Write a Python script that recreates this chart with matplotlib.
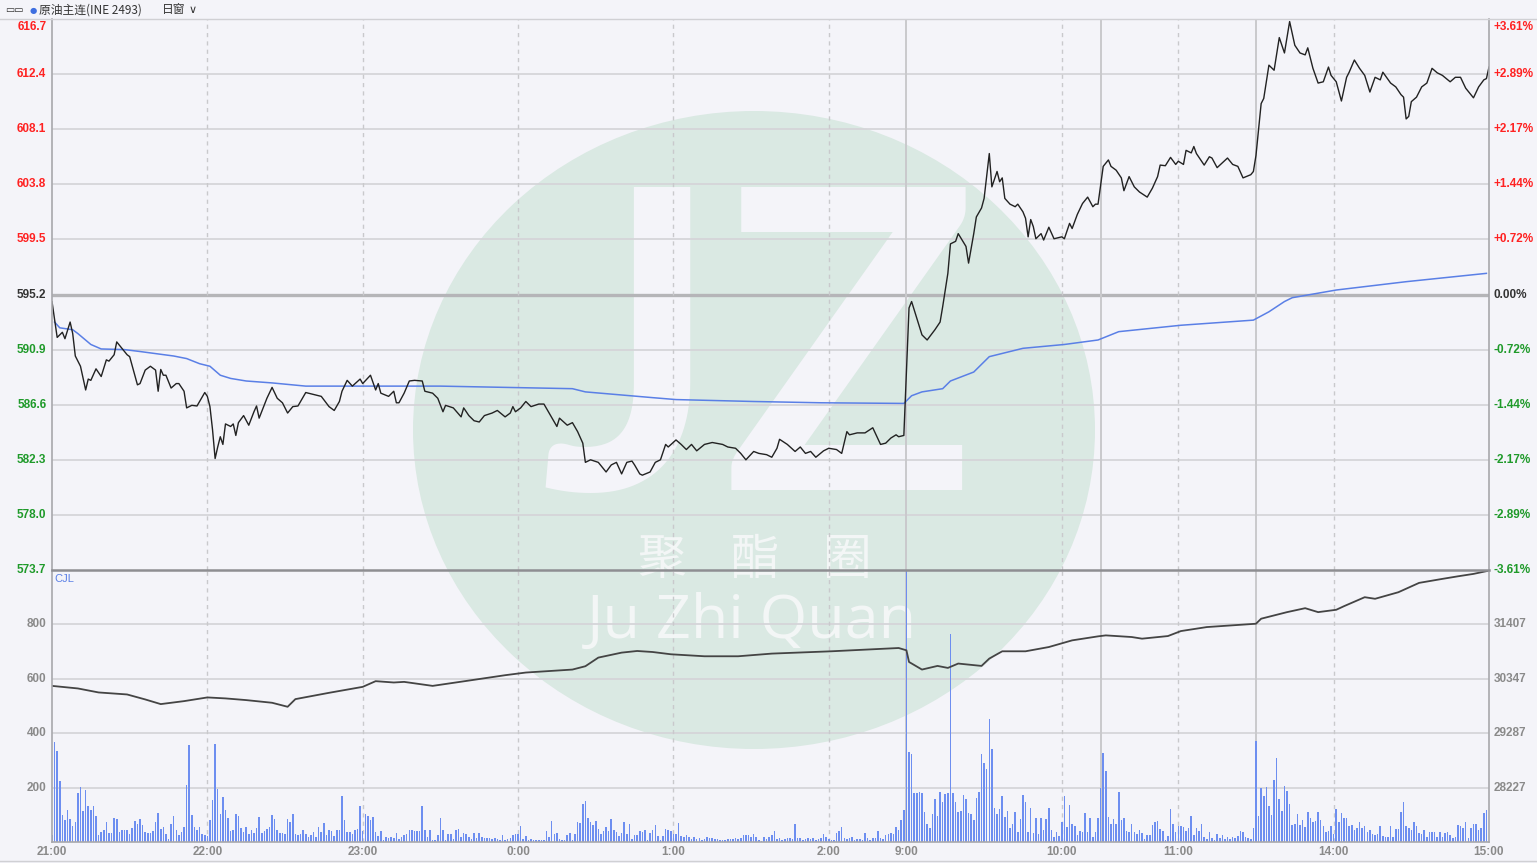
import numpy as np
import matplotlib.pyplot as plt
from matplotlib.patches import Ellipse

# x axis = trading minutes since 21:00
# night 21:00-2:30 (0-329), 9:00-10:15 (330-404), 10:30-11:30 (405-464), 13:30-15:00 (465-554)
tick_pos = [0, 60, 120, 180, 240, 300, 330, 390, 435, 495, 555]
tick_lab = ['21:00', '22:00', '23:00', '0:00', '1:00', '2:00', '9:00', '10:00', '11:00', '14:00', '15:00']
dash_pos = [60, 120, 180, 240, 300, 390, 435, 495]
session_pos = [330, 405, 465]

prev_close = 595.2
price_levels = [573.7, 578.0, 582.3, 586.6, 590.9, 595.2, 599.5, 603.8, 608.1, 612.4, 616.7]
pct_labels = ['-3.61%', '-2.89%', '-2.17%', '-1.44%', '-0.72%', '0.00%',
              '+0.72%', '+1.44%', '+2.17%', '+2.89%', '+3.61%']
vol_ticks = [200, 400, 600, 800]
oi_ticks = [28227, 29287, 30347, 31407]

# price line (minute, price)
price_t = [0, 2, 4, 5, 7, 8, 9, 11, 13, 14, 15, 17, 19, 21, 22, 24, 25, 27, 29, 30,
           33, 34, 36, 38, 40, 41, 42, 43, 44, 46, 48, 49, 51, 52, 54, 56, 57, 59, 60, 61,
           62, 63, 64, 65, 66, 67, 69, 70, 71, 72, 74, 76, 78, 79, 80, 83, 85, 87, 89, 91,
           93, 95, 98, 100, 102, 104, 107, 109, 111, 112, 114, 116, 119, 120, 123, 125, 126, 127, 130, 132,
           133, 134, 136, 138, 140, 143, 144, 147, 149, 151, 152, 155, 158, 159, 161, 163, 165, 167, 170, 172,
           175, 177, 178, 179, 181, 183, 185, 188, 190, 192, 195, 196, 199, 201, 203, 205, 206, 208, 211, 214,
           216, 218, 220, 222, 224, 225, 227, 228, 231, 233, 235, 237, 238, 241, 243, 245, 247, 249, 252, 255,
           259, 261, 264, 266, 268, 271, 273, 276, 278, 280, 281, 284, 287, 289, 291, 293, 295, 298, 300, 303,
           305, 307, 308, 311, 314, 317, 320, 322, 324, 326, 327, 329,
           331, 332, 334, 336, 338, 341, 343, 344, 346, 347, 349, 350, 353, 354, 356, 357, 359, 360, 362, 363,
           365, 366, 367, 368, 370, 372, 373, 375, 376, 377, 378, 379, 380, 382, 383, 385, 387, 390, 391, 393,
           394, 396, 398, 400, 402, 403, 404,
           406, 408, 409, 411, 413, 414, 416, 418, 420, 423, 425, 427, 428, 430, 432, 434, 435, 437, 438, 440,
           441, 442, 445, 447, 448, 450, 454, 456, 458, 460, 463, 464,
           465, 467, 468, 470, 472, 474, 476, 478, 480, 482, 484, 485, 487, 489, 491, 493, 494, 496, 498, 500,
           501, 503, 505, 507, 509, 511, 513, 514, 517, 519, 521, 522, 523, 524, 525, 527, 529, 531, 533, 535,
           537, 540, 542, 544, 546, 549, 551, 553, 554, 555]
price = [594.65, 591.85, 592.25, 591.75, 593.05, 592.15, 590.4, 589.6, 587.75, 588.6, 588.5, 589.4, 588.8, 590.1, 590.0, 590.5, 591.5, 591.0, 590.5, 590.35,
         588.15, 588.25, 589.3, 589.6, 589.3, 587.65, 589.35, 588.9, 588.9, 587.9, 588.25, 588.25, 587.65, 586.35, 586.55, 586.5, 586.85, 587.55, 587.25, 586.45,
         584.65, 582.4, 583.3, 584.1, 583.5, 585.1, 584.9, 585.1, 584.2, 585.2, 585.75, 585.0, 586.05, 586.5, 585.55, 587.1, 587.95, 587.1, 586.75, 585.95,
         586.45, 586.5, 587.55, 587.45, 587.35, 587.25, 586.45, 586.15, 586.85, 587.65, 588.5, 588.05, 588.6, 588.25, 588.9, 587.75, 588.25, 587.5, 587.25, 587.65,
         586.75, 586.75, 587.5, 588.45, 588.5, 588.45, 587.65, 587.5, 587.1, 586.05, 586.55, 586.35, 585.65, 586.35, 585.75, 585.35, 585.25, 585.75, 585.95, 586.15,
         585.65, 585.95, 586.45, 586.05, 586.35, 586.85, 586.45, 586.65, 586.65, 585.95, 584.9, 585.55, 585.0, 585.2, 584.5, 583.6, 582.1, 582.3, 582.1, 581.35,
         581.9, 582.1, 581.2, 582.1, 582.2, 581.9, 581.2, 581.1, 581.35, 582.1, 582.3, 583.5, 583.3, 583.85, 583.5, 583.1, 583.5, 583.0, 583.5, 583.65,
         583.5, 583.3, 583.2, 582.8, 582.3, 582.95, 582.8, 582.7, 582.5, 583.2, 583.9, 583.5, 582.95, 583.3, 582.8, 582.95, 582.5, 583.0, 583.2, 583.1,
         582.8, 584.5, 584.25, 584.4, 584.4, 584.8, 583.5, 583.6, 584.0, 584.25, 584.1, 584.2,
         594.15, 594.65, 593.35, 592.05, 591.65, 592.45, 593.05, 594.25, 596.85, 599.15, 599.35, 599.95, 598.95, 597.65, 599.95, 601.25, 601.95, 602.7, 606.2, 603.6,
         604.8, 604.0, 604.3, 602.7, 602.25, 602.05, 602.25, 601.65, 601.15, 599.7, 601.05, 600.5, 599.55, 599.95, 599.45, 600.45, 599.55, 599.7, 599.55, 600.75,
         600.35, 601.45, 602.3, 602.8, 602.05, 602.25, 602.25,
         605.2, 605.7, 605.2, 604.9, 604.3, 603.3, 604.4, 603.6, 603.2, 602.8, 603.5, 604.4, 605.3, 605.25, 605.9, 605.35, 605.6, 605.35, 606.45, 606.25,
         606.75, 606.2, 605.3, 605.95, 605.85, 605.1, 605.85, 605.35, 605.2, 604.3, 604.55, 604.8,
         606.05, 610.1, 610.5, 613.1, 612.7, 615.25, 614.05, 616.5, 614.65, 614.05, 613.9, 614.45, 612.85, 611.7, 611.8, 612.95, 612.3, 611.8, 610.3, 612.15,
         612.55, 613.5, 612.85, 612.3, 611.0, 612.15, 611.95, 612.55, 611.7, 611.4, 610.8, 610.6, 608.9, 609.1, 610.25, 610.6, 611.4, 611.7, 612.85, 612.5,
         612.3, 611.8, 612.15, 612.15, 611.3, 610.55, 611.4, 611.95, 612.05, 612.95]

# average price line
avg_t = [1, 3, 8, 10, 15, 19, 28, 34, 47, 52, 57, 61, 65, 69, 75, 85, 98, 150, 201, 206,
         232, 241, 271, 297, 329, 332, 336, 344, 347, 356, 362, 375, 391, 404, 412, 436, 464, 470, 476, 479,
         496, 523, 554]
avg_price = [593.05, 592.6, 592.45, 592.15, 591.3, 590.95, 590.9, 590.75, 590.4, 590.2, 589.8, 589.6, 588.9, 588.65, 588.45, 588.3, 588.05, 588.05, 587.85, 587.6,
             587.15, 587.0, 586.85, 586.75, 586.7, 587.3, 587.6, 587.85, 588.45, 589.15, 590.35, 591.0, 591.3, 591.65, 592.3, 592.8, 593.2, 593.85, 594.65, 594.95,
             595.55, 596.2, 596.85]

# open interest (right axis)
oi_t = [0, 10, 18, 29, 36, 42, 51, 60, 67, 75, 85, 91, 94, 107, 120, 125, 132, 136, 147, 162,
        175, 183, 201, 206, 211, 220, 226, 232, 239, 252, 265, 278, 301, 327, 330, 331, 336, 342, 346, 350,
        359, 362, 367, 376, 385, 394, 404, 407, 417, 421, 431, 436, 446, 465, 467, 472, 477, 484, 489, 496,
        499, 507, 511, 520, 528, 537, 543, 549, 555]
oi = [30209, 30159, 30081, 30042, 29945, 29854, 29912, 29984, 29965, 29932, 29880, 29802, 29951, 30074, 30190, 30301, 30275, 30287, 30209, 30320,
      30417, 30469, 30527, 30592, 30760, 30857, 30889, 30869, 30825, 30786, 30786, 30838, 30883, 30947, 30902, 30675, 30527, 30598, 30559, 30644,
      30598, 30741, 30883, 30883, 30966, 31096, 31174, 31193, 31161, 31129, 31180, 31277, 31355, 31420, 31518, 31582, 31646, 31723, 31646, 31692,
      31762, 31937, 31906, 32034, 32216, 32294, 32344, 32391, 32455]

# volume per minute
vol_night = [24, 367, 333, 224, 101, 80, 116, 86, 57, 73, 181, 204, 114, 193, 132, 116, 132, 94, 24, 37,
             43, 72, 33, 34, 89, 86, 37, 45, 45, 43, 31, 53, 76, 67, 83, 64, 37, 33, 33, 39,
             73, 106, 49, 55, 31, 12, 65, 94, 43, 24, 35, 55, 208, 355, 98, 55, 43, 55, 28, 24,
             21, 80, 153, 361, 196, 104, 165, 116, 89, 40, 43, 104, 94, 53, 37, 55, 31, 43, 33, 53,
             92, 33, 40, 49, 55, 98, 86, 45, 33, 33, 31, 86, 73, 104, 28, 24,
             31, 43, 31, 18, 24, 37, 18, 55, 37, 70, 24, 43, 40, 21, 43, 43, 168, 80, 37, 37,
             31, 43, 49, 131, 40, 104, 94, 80, 92, 37, 21, 40, 9, 18, 15, 18, 16, 34, 10, 18,
             24, 31, 45, 43,
             40, 40, 40, 131, 45, 18, 43, 6, 6, 24, 89, 45, 9, 31, 31, 12, 45, 49, 18, 33,
             31, 18, 12, 33, 16, 33, 18, 16, 16, 16, 12, 16, 12, 6, 24, 9, 12, 16, 24, 28,
             31, 57, 12, 21, 9, 12, 9, 9, 6, 9, 9, 40, 18, 76, 28, 33, 12, 9, 6, 24,
             33, 9, 31, 73, 70, 141, 149, 89, 73, 61, 77, 49, 31, 40, 55, 40, 86, 45, 37, 21,
             33, 73, 31, 65, 12, 24, 24, 40, 37, 45, 9, 33, 43, 61, 21, 9, 21, 49, 45, 40,
             31, 31, 70, 21, 18, 24, 18, 12, 18, 12, 16, 9, 10, 18, 16, 16, 12, 12, 6, 6,
             6, 12, 12, 12, 16, 12, 16, 24, 24, 24, 18, 31, 18, 6, 4, 18,
             11, 20, 26, 40, 11, 16, 7, 11, 13, 13, 11, 68, 16, 16, 7, 11, 16, 11, 16, 7,
             11, 13, 29, 20, 11, 7, 7, 32, 42, 56, 13, 11, 13, 20, 7, 11, 11, 7, 32, 13,
             7, 13, 13, 42, 13, 11, 26, 28, 32, 28, 56, 44, 81, 117]
vol_morning1 = [1040, 331, 322, 181, 181, 182, 179, 111, 68, 50, 102, 157, 97, 185, 148, 175, 179, 766, 179, 148,
                111, 114, 172, 158, 105, 102, 81, 163, 182, 325, 289, 270, 454, 341, 124, 102, 121, 169, 93, 114,
                50, 68, 111, 38, 83, 172, 148, 38, 126, 32, 87, 28, 89, 44, 84, 124, 44, 20, 38, 23,
                75, 169, 56, 136, 68, 60, 26, 40, 38, 105, 38, 87, 20, 38, 87]
vol_morning2 = [199, 329, 260, 93, 65, 84, 65, 182, 81,
                87, 40, 38, 68, 38, 28, 44, 32, 11, 26, 26, 62, 75, 77, 48, 40, 7, 23, 121, 66,
                38, 60, 60, 54, 40, 50, 97, 26, 50, 40, 65, 20, 11, 38, 16, 7, 28, 13, 26, 11,
                20, 11, 20, 16, 23, 40, 38, 20, 13, 11, 50]
vol_afternoon = [371, 97, 199, 170, 203, 133, 99, 227, 307, 158, 114, 207, 187, 138, 62, 68, 102, 62, 81, 56,
                 109, 89, 75, 77, 109, 81, 60, 38, 40, 60, 28, 121, 72, 105, 89, 87, 60, 62, 44, 50,
                 72, 50, 60, 38, 44, 28, 26, 28, 60, 23, 20, 20, 60, 20, 48, 48, 111, 148, 60, 50,
                 44, 75, 60, 32, 28, 44, 20, 38, 35, 35, 20, 38, 20, 32, 35, 26, 16, 20, 62, 60,
                 50, 75, 13, 50, 68, 65, 44, 53, 105, 117]
volume = vol_night + vol_morning1 + vol_morning2 + vol_afternoon

BG = '#f4f4f9'
GRID = '#d5d5d9'
RED = '#ff2222'
GREEN = '#1f9a2a'
GRAY = '#8a8a8a'

plt.rcParams['font.family'] = ['Noto Sans CJK SC', 'DejaVu Sans']

fig = plt.figure(figsize=(15.37, 8.63), dpi=100, facecolor=BG)
W, H = 1537.0, 863.0
x0, x1 = 52 / W, 1489 / W
ax = fig.add_axes([x0, 1 - 570 / H, x1 - x0, 551 / H])
axv = fig.add_axes([x0, 1 - 842 / H, x1 - x0, 272 / H])
axo = axv.twinx()

# watermark
fig.patches.append(Ellipse((754 / W, 1 - 430 / H), 682 / W, 638 / H, transform=fig.transFigure,
                           facecolor='#dae9e3', edgecolor='none', zorder=-3))
fig.text(630 / W, 1 - 490 / H, 'J', transform=fig.transFigure, fontsize=302, fontweight='bold',
         family='Lato', color=BG, ha='center', va='baseline', zorder=-2)
fig.text(850 / W, 1 - 490 / H, 'Z', transform=fig.transFigure, fontsize=302, fontweight='bold',
         family='Lato', color=BG, ha='center', va='baseline', zorder=-2)
for cx, ch in zip([662, 755, 847], ['聚', '酯', '圈']):
    fig.text(cx / W, 1 - 560 / H, ch, fontsize=35, color='#f3f6f6', ha='center', va='center',
             family='Noto Sans CJK SC', zorder=-2)
fig.text(752 / W, 1 - 622 / H, 'Ju Zhi Quan', fontsize=44, color='#f3f6f6', ha='center', va='center',
         family='Open Sans', zorder=-2)

for a in (ax, axv, axo):
    a.set_facecolor('none')
    a.set_xlim(0, 555)
    a.set_xticks([])
    a.set_yticks([])
    for s in a.spines.values():
        s.set_visible(False)

# price panel
ax.set_ylim(573.7, 616.7)
for lv in price_levels[1:]:
    if lv == prev_close:
        ax.axhline(lv, color='#b5b5b8', lw=2.4, zorder=1)
    else:
        ax.axhline(lv, color=GRID, lw=1.3, zorder=1)
for p in dash_pos:
    ax.axvline(p, color='#c9c9cc', lw=1, ls=(0, (3, 3)), zorder=1)
for p in session_pos:
    ax.axvline(p, color='#c9c9cc', lw=1.4, zorder=1)
ax.plot(avg_t, avg_price, color='#5a7fe6', lw=1.1, zorder=3)
ax.plot(price_t, price, color='#222222', lw=1.0, zorder=4)

for lv, pl in zip(price_levels, pct_labels):
    c = RED if lv > prev_close else (GREEN if lv < prev_close else '#333333')
    yy = lv - 0.6 if lv == price_levels[-1] else lv
    ax.text(-0.004, yy, f'{lv:.1f}', transform=ax.get_yaxis_transform(), ha='right', va='center',
            fontsize=8.5, fontweight='bold', color=c, family='Liberation Sans')
    ax.text(1.003, yy, pl, transform=ax.get_yaxis_transform(), ha='left', va='center',
            fontsize=8.5, fontweight='bold', color=c, family='Liberation Sans')

# volume panel
axv.set_ylim(0, 1000)
axo.set_ylim(27167, 32467)
for v in vol_ticks:
    axv.axhline(v, color=GRID, lw=1.3, zorder=1)
    axv.text(-0.004, v, str(v), transform=axv.get_yaxis_transform(), ha='right', va='center',
             fontsize=8.5, fontweight='bold', color=GRAY, family='Liberation Sans')
for v in oi_ticks:
    axo.text(1.003, v, str(v), transform=axo.get_yaxis_transform(), ha='left', va='center',
             fontsize=8.5, fontweight='bold', color=GRAY, family='Liberation Sans')
for p in dash_pos:
    axv.axvline(p, color='#c9c9cc', lw=1, ls=(0, (3, 3)), zorder=1)
for p in session_pos:
    axv.axvline(p, color='#c9c9cc', lw=1.4, zorder=1)
axv.bar(np.arange(len(volume)), volume, width=0.6, color='#6d8ef0', zorder=2)
axo.plot(oi_t, oi, color='#444444', lw=1.3, zorder=3)
axv.text(0.002, 0.985, 'CJL', transform=axv.transAxes, ha='left', va='top', fontsize=8, color='#5a7fe6',
         family='Liberation Sans')

for p, lab in zip(tick_pos, tick_lab):
    axv.text(p, -0.015, lab, transform=axv.get_xaxis_transform(), ha='center', va='top',
             fontsize=8.5, fontweight='bold', color=GRAY, family='Liberation Sans')

# frame lines
fig.add_artist(plt.Line2D([x0, x0], [1 - 842 / H, 1 - 19 / H], color='#a8a8ac', lw=1.2))
fig.add_artist(plt.Line2D([x1, x1], [1 - 842 / H, 1 - 19 / H], color='#a8a8ac', lw=1.2))
fig.add_artist(plt.Line2D([0, 1], [1 - 19 / H, 1 - 19 / H], color='#d0d0d4', lw=1))
fig.add_artist(plt.Line2D([x0, x1], [1 - 570 / H, 1 - 570 / H], color='#8e8e92', lw=1.8))
fig.add_artist(plt.Line2D([x0, x1], [1 - 842 / H, 1 - 842 / H], color='#a8a8ac', lw=1.2))
fig.add_artist(plt.Line2D([0, 1], [1 - 861 / H, 1 - 861 / H], color='#d0d0d4', lw=1))

# header
fig.text(5 / W, 1 - 10 / H, '▭▭', fontsize=7, color='#333333', va='center', family='DejaVu Sans')
fig.text(30 / W, 1 - 10 / H, '●', fontsize=6, color='#3f6fe0', va='center', family='DejaVu Sans')
fig.text(39 / W, 1 - 10 / H, '原油主连(INE 2493)', fontsize=8.5, color='#333333', va='center')
fig.text(162 / W, 1 - 10 / H, '日窗', fontsize=8.5, color='#333333', va='center')
fig.text(189 / W, 1 - 10 / H, '∨', fontsize=8, color='#333333', va='center', family='DejaVu Sans')

fig.savefig('out.png', dpi=100, facecolor=BG)
